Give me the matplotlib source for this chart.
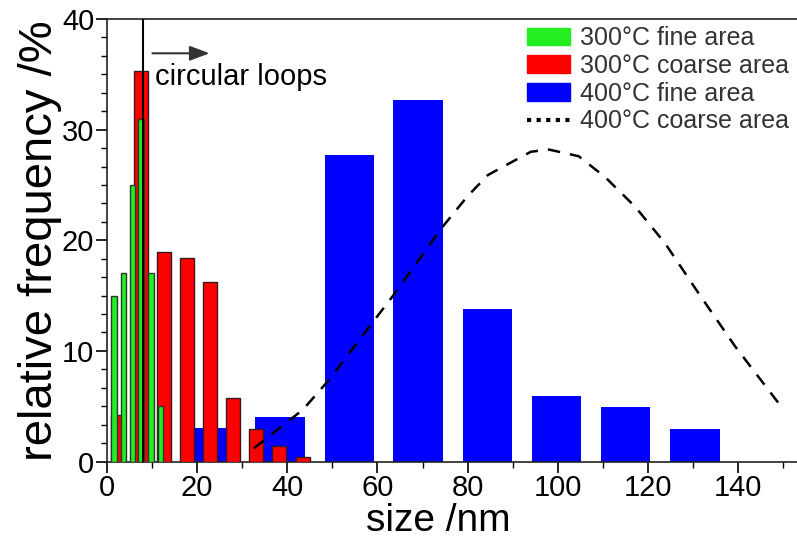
"""Size distribution of loops at 300/400 C."""
import matplotlib
matplotlib.use("Agg")
import matplotlib.pyplot as plt
from matplotlib.patches import Patch
from matplotlib.lines import Line2D
from matplotlib.ticker import MultipleLocator

plt.rcParams['font.family'] = ['Liberation Sans', 'DejaVu Sans']

# 300 C fine area
green_x = [1.6, 3.7, 5.7, 7.6, 9.8, 11.9]
green_y = [15.0, 17.0, 25.0, 31.0, 17.0, 5.0]

# 300 C coarse area
red_x = [2.4, 7.5, 12.7, 17.8, 22.9, 28.0, 33.1, 38.2, 43.4]
red_y = [4.2, 35.3, 18.9, 18.4, 16.2, 5.7, 2.9, 1.45, 0.45]

# 400 C fine area
blue_x = [23.2, 38.4, 53.8, 69.0, 84.3, 99.6, 115.0, 130.4]
blue_y = [3.0, 4.0, 27.7, 32.7, 13.8, 5.9, 4.95, 2.95]

# 400 C coarse area (fit curve)
curve_x = [32.6, 43.5, 49.3, 58.2, 63.3, 74.4, 80.0, 84.5, 89.9, 94.0,
           98.0, 104.6, 110.5, 117.2, 123.8, 131.2, 139.3, 150.0]
curve_y = [1.2, 4.7, 7.4, 12.2, 14.9, 21.2, 24.0, 25.9, 27.1, 28.0,
           28.2, 27.6, 25.7, 23.0, 19.7, 15.2, 10.4, 4.7]

labels = ["300°C fine area", "300°C coarse area",
          "400°C fine area", "400°C coarse area"]

fig = plt.figure(figsize=(7.97, 5.43), dpi=100)
ax = fig.add_axes([0.134, 0.150, 0.866, 0.815])

ax.bar(blue_x, blue_y, width=10.9, color='#0000ff', edgecolor='none', zorder=2)
ax.bar(red_x, red_y, width=3.1, color='#ff0000', edgecolor='#3a1a1a',
       linewidth=1.0, zorder=3)
ax.bar(green_x, green_y, width=1.2, color='#22ee22', edgecolor='#2a3a2a',
       linewidth=1.0, zorder=4)
ax.plot(curve_x, curve_y, color='black', lw=1.8, dashes=(5, 4), zorder=5)

ax.axvline(8.0, color='black', lw=1.5, zorder=6)
ax.annotate("", xy=(23.4, 36.9), xytext=(9.5, 36.9),
            arrowprops=dict(arrowstyle='-|>,head_length=1.2,head_width=0.45',
                            color='#333333', lw=1.5), zorder=6)
ax.text(10.6, 34.0, "circular loops", fontsize=21, color='black',
        va='baseline', ha='left', zorder=6)

ax.set_xlim(0, 153)
ax.set_ylim(0, 40)
ax.xaxis.set_major_locator(MultipleLocator(20))
ax.xaxis.set_minor_locator(MultipleLocator(10))
ax.yaxis.set_major_locator(MultipleLocator(10))
ax.yaxis.set_minor_locator(MultipleLocator(10 / 6))
ax.tick_params(which='major', length=8, width=1.2, labelsize=21, pad=1)
ax.tick_params(which='minor', length=4, width=1.0)
ax.spines['right'].set_visible(False)
for s in ['top', 'left', 'bottom']:
    ax.spines[s].set_linewidth(1.2)
    ax.spines[s].set_color('#222222')

ax.set_xlabel("size /nm", fontsize=28)
ax.xaxis.set_label_coords(0.48, -0.094)
ax.set_ylabel("relative frequency /%", fontsize=34, labelpad=0)

handles = [Patch(color='#22ee22'), Patch(color='#ff0000'),
           Patch(color='#0000ff'),
           Line2D([], [], color='black', lw=3, ls=(0, (1, 1.3)))]
ax.legend(handles, labels, loc='upper left', bbox_to_anchor=(0.646, 0.975),
          bbox_transform=fig.transFigure, frameon=False, fontsize=18,
          handlelength=1.7, handleheight=0.7, handletextpad=0.4,
          labelspacing=0.15, borderpad=0, labelcolor='#333333')

fig.savefig("out.png", dpi=100)
